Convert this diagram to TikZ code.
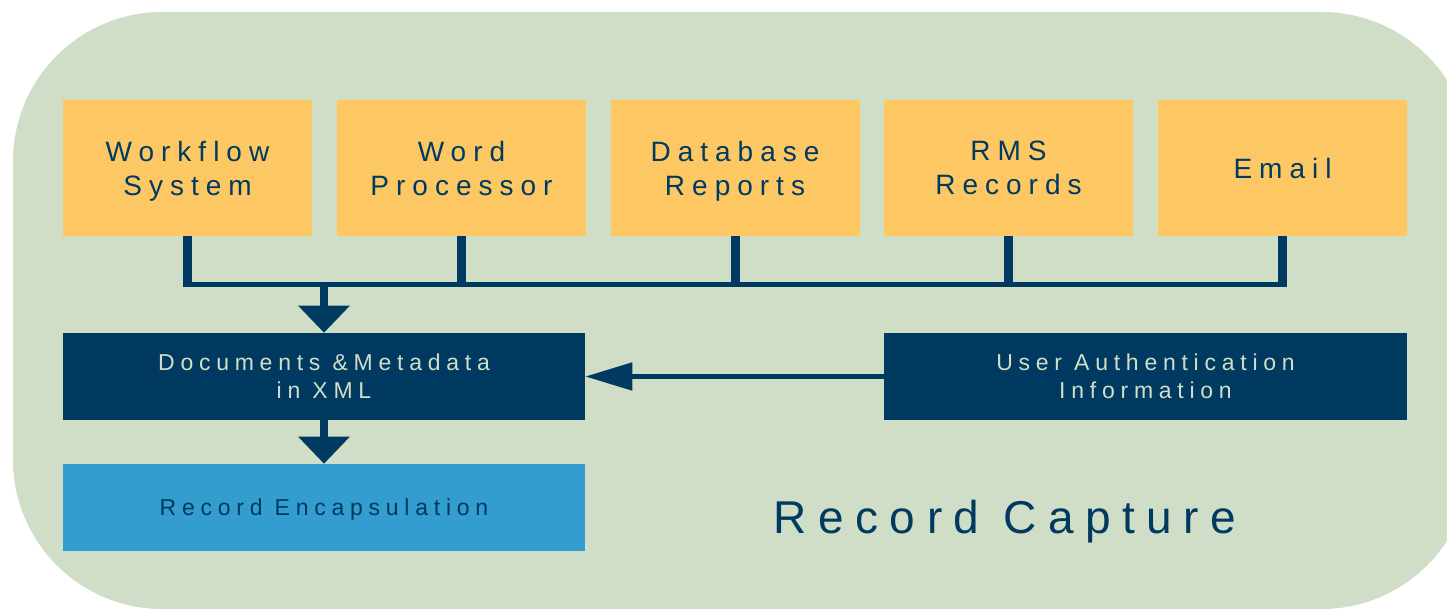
\documentclass[tikz,border=0pt]{standalone}
\usepackage{fontspec}
\setmainfont{Liberation Sans}
\newfontfamily\trk{Liberation Sans}[LetterSpace=25]
\usetikzlibrary{arrows.meta}
\definecolor{bggreen}{HTML}{D0DEC8}
\definecolor{boxyellow}{HTML}{FDC864}
\definecolor{navy}{HTML}{003A60}
\definecolor{skyblue}{HTML}{339DD0}
\def\pxu{0.75pt}
\tikzset{
  srcbox/.style={fill=boxyellow, inner sep=0pt, minimum width=249*\pxu, minimum height=136*\pxu,
    align=center, text=navy, text depth=0pt, font=\trk\fontsize{21pt}{25.5pt}\selectfont},
  navybox/.style={fill=navy, inner sep=0pt, minimum width=522*\pxu, minimum height=87*\pxu,
    align=center, text=bggreen, font=\trk\fontsize{17.25pt}{21pt}\selectfont},
  encbox/.style={fill=skyblue, inner sep=0pt, minimum width=522*\pxu, minimum height=87*\pxu,
    align=center, text=navy, text depth=0pt, font=\trk\fontsize{17.25pt}{21pt}\selectfont},
  vline/.style={draw=navy, line width=9*\pxu},
  hline/.style={draw=navy, line width=5*\pxu},
  downarrow/.style={draw=navy, line width=8*\pxu, -{Triangle[length=27*\pxu, width=50*\pxu]}},
  leftarrow/.style={draw=navy, line width=5*\pxu, -{Triangle[length=47*\pxu, width=27*\pxu]}},
  titletext/.style={text=navy, inner sep=0pt, anchor=base, font=\trk\fontsize{34.5pt}{40pt}\selectfont}
}
\begin{document}
\begin{tikzpicture}[x=0.75pt, y=-0.75pt]
\useasboundingbox (0,0) rectangle (1447,609);
\begin{scope}
\clip (0,0) rectangle (1447,609);
\fill[bggreen, rounded corners=112pt] (13,12) rectangle (1471,609);
\end{scope}
% source boxes
\node[srcbox] (s1) at (187.5,168) {Workflow\\System};
\node[srcbox] (s2) at (461.5,168) {Word\\Processor};
\node[srcbox] (s3) at (735,168) {Database\\Reports};
\node[srcbox] (s4) at (1008.5,168) {RMS\\Records};
\node[srcbox] (s5) at (1282.5,168) {Email};
% middle and lower boxes
\node[navybox] (doc) at (324,376.5) {Documents \&Metadata\\in XML};
\node[navybox, minimum width=523*\pxu] (auth) at (1145.5,376.5) {User Authentication\\Information};
\node[encbox] (enc) at (324,507.5) {Record Encapsulation};
\node[titletext] (title) at (1005,534) {Record Capture};
% bus
\coordinate (busy) at (0,284.5);
\coordinate (busin) at (doc.north |- busy);
\foreach \s in {s1,s2,s3,s4,s5}{
  \draw[vline] (\s.south) -- ([yshift=-2.5*\pxu]\s.south |- busy);
}
\draw[hline] ([xshift=-4.5*\pxu]s1.south |- busy) -- ([xshift=4.5*\pxu]s5.south |- busy);
\draw[downarrow] (busin) -- (doc.north);
\draw[downarrow] (doc.south) -- (enc.north);
\draw[leftarrow] (auth.west) -- (doc.east);
\end{tikzpicture}
\end{document}
